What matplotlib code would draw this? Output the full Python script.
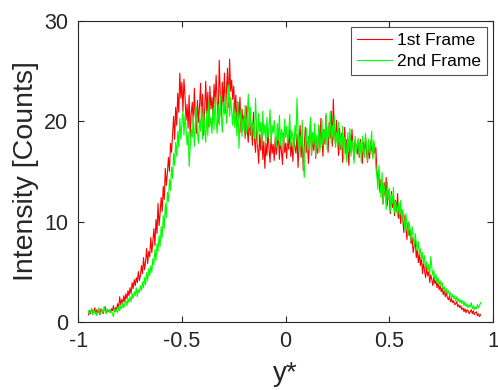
import matplotlib
matplotlib.use('Agg')
import matplotlib.pyplot as plt
import numpy as np

plt.rcParams['font.family'] = ['Liberation Sans', 'DejaVu Sans']

# ==== intensity profiles (y* from -0.95 to 0.94) ====
frame1 = [
    0.7, 1.1, 0.8, 1.3, 0.9, 1.0, 1.4, 0.8, 1.2, 0.9, 1.1, 0.7, 1.3, 1.0, 0.8, 1.2, 1.5, 0.9, 1.1, 1.0,
    1.2, 0.9, 1.3, 1.1, 1.6, 1.0, 1.4, 1.2, 1.8, 1.3, 2.5, 1.7, 2.2, 1.9, 2.6, 2.0, 2.8, 2.3, 3.1, 2.6,
    3.4, 2.8, 3.9, 3.3, 4.2, 3.6, 4.4, 3.9, 5.0, 4.1, 4.6, 5.6, 4.8, 6.4, 5.2, 6.0, 7.3, 5.8, 7.0, 6.5,
    8.4, 6.9, 8.0, 9.3, 7.6, 10.2, 8.8, 11.8, 9.6, 10.8, 12.4, 11.0, 13.5, 12.2, 15.3, 13.6, 14.8, 16.4, 15.0, 17.8,
    16.9, 18.6, 20.5, 18.2, 21.4, 19.6, 22.8, 20.9, 24.8, 22.3, 23.9, 21.0, 24.2, 22.5, 20.1, 21.7, 19.3, 22.6, 18.4, 20.8,
    21.9, 19.6, 23.3, 20.4, 18.8, 22.1, 19.9, 21.5, 23.8, 20.2, 22.7, 18.6, 21.3, 24.0, 20.7, 22.9, 19.4, 23.5, 21.2, 22.4,
    20.6, 23.7, 21.8, 24.6, 22.0, 19.8, 26.1, 22.7, 20.4, 23.9, 21.6, 24.8, 20.9, 23.2, 25.3, 21.4, 26.2, 23.0, 24.1, 22.2,
    23.5, 20.8, 22.6, 19.5, 21.9, 20.3, 22.4, 18.9, 21.2, 19.7, 20.6, 18.3, 21.5, 19.1, 17.9, 20.4, 18.6, 19.8, 17.6, 20.9,
    18.2, 16.9, 19.4, 17.5, 15.8, 18.7, 17.1, 19.3, 16.2, 18.0, 15.3, 17.8, 16.6, 19.1, 17.3, 15.9, 18.5, 16.8, 17.7, 16.1,
    18.4, 16.7, 17.6, 19.0, 16.2, 18.1, 17.0, 15.7, 18.8, 16.9, 17.8, 16.3, 18.6, 17.2, 19.2, 16.5, 17.9, 16.0, 18.3, 17.4,
    16.8, 18.7, 15.4, 17.9, 19.6, 16.4, 18.2, 15.1, 17.5, 19.4, 16.9, 18.0, 15.8, 17.7, 20.1, 16.6, 18.5, 17.1, 19.0, 16.3,
    18.2, 16.8, 19.5, 17.4, 20.3, 18.0, 16.5, 19.2, 17.7, 20.6, 18.6, 16.9, 19.9, 18.3, 21.0, 17.5, 22.2, 19.3, 17.8, 20.1,
    18.5, 16.6, 19.3, 17.2, 18.8, 15.9, 17.9, 19.4, 16.8, 18.2, 17.0, 15.6, 18.7, 16.9, 19.2, 17.4, 16.2, 18.1, 17.6, 16.7,
    17.8, 16.4, 18.2, 17.1, 15.8, 17.9, 16.6, 18.4, 16.9, 15.9, 17.5, 16.3, 18.0, 17.2, 16.5, 17.7, 16.8, 17.4, 15.2, 14.0,
    14.6, 12.9, 14.2, 13.3, 11.8, 13.9, 12.5, 14.4, 11.6, 13.1, 12.2, 10.8, 13.0, 11.4, 12.6, 10.6, 12.1, 11.0, 12.8, 10.3,
    11.5, 9.8, 11.1, 10.2, 8.9, 10.6, 9.4, 8.2, 9.9, 8.6, 9.2, 7.8, 8.4, 6.9, 7.6, 8.1, 6.4, 7.2, 5.9, 6.8,
    5.6, 6.5, 4.8, 5.9, 5.1, 4.4, 5.5, 4.6, 5.0, 3.9, 4.7, 4.2, 3.6, 4.5, 3.8, 4.1, 3.4, 3.9, 3.2, 3.6,
    3.0, 3.4, 2.7, 3.1, 2.5, 2.9, 2.4, 2.2, 2.6, 2.0, 2.3, 1.9, 2.1, 1.7, 1.8, 2.0, 1.5, 1.7, 1.4, 1.6,
    1.2, 1.4, 1.0, 1.3, 0.9, 1.2, 1.1, 0.8, 1.0, 1.2, 0.8, 1.1, 0.7, 0.9, 1.0, 0.6, 0.8, 0.5, 0.7,
]

frame2 = [
    1.1, 0.8, 1.0, 1.3, 0.7, 1.2, 0.9, 1.0, 0.6, 1.1, 1.4, 0.8, 1.0, 1.2, 0.9, 1.5, 1.1, 0.8, 1.3, 1.0,
    1.2, 0.9, 1.1, 0.8, 0.5, 1.3, 1.0, 1.2, 0.9, 1.5, 1.1, 1.6, 1.3, 1.9, 1.4, 1.8, 2.1, 1.6, 2.3, 1.9,
    2.5, 2.0, 2.8, 2.3, 3.0, 2.6, 3.4, 2.5, 3.2, 2.9, 3.6, 3.1, 4.0, 3.4, 4.4, 3.7, 4.9, 4.1, 5.3, 4.6,
    5.6, 4.9, 6.3, 5.7, 7.2, 6.1, 7.8, 7.0, 8.6, 7.5, 9.5, 8.4, 10.6, 9.3, 11.8, 10.4, 12.9, 12.0, 14.2, 13.1,
    15.4, 14.3, 16.8, 15.6, 17.9, 16.5, 19.0, 17.4, 20.3, 18.2, 19.8, 21.0, 18.6, 20.6, 19.3, 17.6, 18.9, 15.5, 17.3, 19.2,
    18.4, 20.6, 17.5, 19.7, 21.4, 18.9, 17.8, 20.3, 19.0, 21.5, 18.2, 20.8, 19.4, 17.9, 21.0, 18.6, 22.1, 19.5, 20.4, 18.8,
    21.3, 19.2, 22.4, 20.0, 18.8, 21.7, 19.6, 22.6, 20.4, 18.9, 21.9, 20.7, 22.9, 19.8, 21.2, 23.6, 20.5, 22.4, 21.0, 19.6,
    21.8, 19.4, 20.9, 18.6, 22.0, 17.3, 19.9, 21.1, 18.5, 20.3, 19.1, 21.6, 18.7, 20.5, 22.7, 19.3, 21.4, 18.2, 20.0, 19.6,
    18.3, 22.3, 19.5, 17.7, 20.8, 18.9, 19.9, 17.5, 21.0, 18.6, 19.7, 17.9, 20.4, 18.4, 19.3, 21.2, 17.8, 19.6, 18.8, 20.1,
    18.5, 17.4, 19.8, 18.1, 20.6, 17.6, 19.2, 18.7, 17.2, 20.2, 18.4, 19.5, 17.8, 18.9, 20.7, 17.5, 19.1, 18.3, 17.0, 19.6,
    18.2, 22.3, 19.0, 16.8, 18.6, 17.4, 20.1, 15.9, 14.4, 17.8, 19.3, 16.9, 18.5, 17.2, 20.4, 16.6, 18.9, 17.7, 19.8, 16.5,
    18.6, 17.3, 19.7, 16.9, 18.4, 20.2, 17.6, 19.1, 18.0, 20.8, 17.2, 19.4, 18.3, 21.0, 17.8, 19.6, 18.1, 20.5, 17.4, 18.9,
    17.5, 19.9, 16.8, 18.7, 17.3, 19.5, 16.2, 18.4, 17.8, 15.9, 18.9, 17.0, 19.3, 16.5, 18.1, 17.6, 15.8, 18.5, 16.9, 17.7,
    18.3, 16.6, 17.9, 15.9, 18.5, 17.2, 16.4, 18.8, 17.6, 16.0, 18.2, 16.9, 17.5, 19.0, 16.3, 18.1, 17.4, 15.4, 14.6, 13.2,
    15.6, 13.8, 12.4, 14.9, 11.7, 13.6, 12.9, 11.2, 14.0, 12.3, 13.3, 11.0, 12.7, 11.8, 13.4, 10.9, 12.0, 11.3, 10.5, 11.9,
    10.7, 12.1, 9.9, 11.2, 10.4, 9.1, 10.8, 9.6, 8.7, 10.0, 9.3, 8.1, 9.5, 8.4, 7.6, 8.8, 7.9, 7.1, 8.0, 6.7,
    7.3, 6.2, 6.9, 5.8, 6.6, 5.3, 6.0, 5.0, 5.7, 4.8, 6.5, 5.4, 4.6, 5.1, 4.2, 4.7, 3.9, 4.4, 3.7, 4.1,
    3.6, 3.9, 3.2, 3.5, 2.9, 3.3, 2.8, 3.1, 2.6, 2.9, 2.4, 2.7, 2.3, 2.6, 2.1, 2.5, 2.0, 2.3, 1.9, 2.2,
    1.8, 2.1, 1.6, 2.0, 1.5, 1.8, 1.4, 1.7, 1.5, 1.9, 1.3, 1.6, 1.2, 1.5, 1.3, 1.7, 1.4, 1.6, 1.9,
]

x1 = np.linspace(-0.95, 0.94, len(frame1))
x2 = np.linspace(-0.95, 0.94, len(frame2))

xticks = [-1, -0.5, 0, 0.5, 1]
xtick_labels = ['-1', '-0.5', '0', '0.5', '1']
yticks = [0, 10, 20, 30]

# ==== plotting ====
fig = plt.figure(figsize=(4.98, 3.9), dpi=100)
ax = fig.add_axes([0.157, 0.175, 0.833, 0.771])

ax.plot(x1, frame1, color='#ff0000', linewidth=0.8, label='1st Frame')
ax.plot(x2, frame2, color='#00ff00', linewidth=0.8, label='2nd Frame')

ax.set_xlim(-1, 1)
ax.set_ylim(0, 30)
ax.set_xticks(xticks)
ax.set_xticklabels(xtick_labels)
ax.set_yticks(yticks)
ax.tick_params(direction='in', top=True, right=True, labelsize=15.5,
               length=4, width=0.8, colors='#262626', pad=7)
for sp in ax.spines.values():
    sp.set_color('#262626')
    sp.set_linewidth(0.8)

ax.set_xlabel('y*', fontsize=20, color='#262626', labelpad=6)
ax.set_ylabel('Intensity [Counts]', fontsize=20.5, color='#262626', labelpad=4)

leg = ax.legend(loc='upper right', fontsize=12.5, frameon=True, fancybox=False,
                handlelength=2.0, handletextpad=0.3, borderpad=0.35, labelspacing=0.3,
                borderaxespad=0.35)
leg.get_frame().set_edgecolor('#262626')
leg.get_frame().set_linewidth(0.8)

fig.savefig('out.png', dpi=100)
